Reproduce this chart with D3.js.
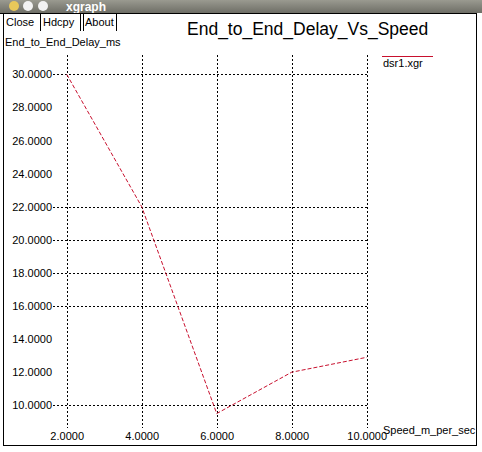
<!DOCTYPE html>
<html>
<head>
<meta charset="utf-8">
<script src="https://cdn.jsdelivr.net/npm/d3@7"></script>
<style>
  body { margin: 0; background: #fff; }
  svg text { font-family: "Liberation Sans", "DejaVu Sans", sans-serif; }
</style>
</head>
<body>
<svg id="chart" width="482" height="452"></svg>
<script>
// data
const speeds = [2, 4, 6, 8, 10];
const delays = [30.0, 22.0, 9.5, 12.0, 12.9];
const yTicks = [10, 12, 14, 16, 18, 20, 22, 24, 26, 28, 30];
const yGridShown = [10, 16, 18, 20, 22, 30];
const buttons = ["Close", "Hdcpy", "About"];

const svg = d3.select("#chart");

// window title bar
const grad = svg.append("defs").append("linearGradient")
    .attr("id", "bar").attr("x1", 0).attr("y1", 0).attr("x2", 0).attr("y2", 1);
grad.append("stop").attr("offset", "0%").attr("stop-color", "#9a9a90");
grad.append("stop").attr("offset", "100%").attr("stop-color", "#6e6e66");
svg.append("rect").attr("x", 0).attr("y", 0).attr("width", 482).attr("height", 13)
    .attr("fill", "url(#bar)");
[[14, "#e8c85a"], [28, "#f2f2f2"], [43, "#f2f2f2"]].forEach(([cx, c]) => {
    svg.append("ellipse").attr("cx", cx).attr("cy", 6).attr("rx", 5).attr("ry", 5)
        .attr("fill", c);
});
svg.append("text").attr("x", 66).attr("y", 11).text("xgraph")
    .style("font-size", "12px").style("font-weight", "bold").attr("fill", "#fff");

// frame
svg.append("line").attr("x1", 0).attr("x2", 477).attr("y1", 13.5).attr("y2", 13.5)
    .attr("stroke", "#000");
svg.append("line").attr("x1", 3.5).attr("x2", 3.5).attr("y1", 13).attr("y2", 446)
    .attr("stroke", "#000");
svg.append("line").attr("x1", 476.5).attr("x2", 476.5).attr("y1", 13).attr("y2", 446)
    .attr("stroke", "#000");
svg.append("line").attr("x1", 3).attr("x2", 477).attr("y1", 445.5).attr("y2", 445.5)
    .attr("stroke", "#000");

// buttons
const btnX = [6, 43, 85];
const btnEdges = [40.5, 80.5, 83.5, 116.5];
buttons.forEach((b, i) => {
    svg.append("text").attr("x", btnX[i]).attr("y", 26).text(b)
        .style("font-size", "11px").attr("fill", "#000");
});
btnEdges.forEach(x => {
    svg.append("line").attr("x1", x).attr("x2", x).attr("y1", 14).attr("y2", 31)
        .attr("stroke", "#000");
});

// scales
const x = d3.scaleLinear().domain([2, 10]).range([66.7, 366.7]);
const y = d3.scaleLinear().domain([10, 30]).range([405.3, 74.3]);

// grid
svg.append("g").selectAll("line").data(speeds).join("line")
    .attr("x1", d => Math.round(x(d)) + 0.5).attr("x2", d => Math.round(x(d)) + 0.5)
    .attr("y1", 55).attr("y2", 428)
    .attr("stroke", "#000").attr("stroke-dasharray", "2,2");
svg.append("g").selectAll("line").data(yGridShown).join("line")
    .attr("x1", 53).attr("x2", 369)
    .attr("y1", d => Math.round(y(d)) + 0.5).attr("y2", d => Math.round(y(d)) + 0.5)
    .attr("stroke", "#000").attr("stroke-dasharray", "2,2");

// axis labels via d3 axes (no domain / tick lines, only text)
const yAxis = svg.append("g").attr("transform", "translate(52,0)")
    .call(d3.axisLeft(y).tickValues(yTicks).tickSize(0).tickPadding(0)
        .tickFormat(d3.format(".4f")));
yAxis.select(".domain").remove();
yAxis.selectAll("text").style("font-size", "11px").style("font-family", "Liberation Sans, sans-serif")
    .attr("fill", "#000");

const xAxis = svg.append("g").attr("transform", "translate(0,432)")
    .call(d3.axisBottom(x).tickValues(speeds).tickSize(0).tickPadding(0)
        .tickFormat(d3.format(".4f")));
xAxis.select(".domain").remove();
xAxis.selectAll("text").style("font-size", "11px").style("font-family", "Liberation Sans, sans-serif")
    .attr("fill", "#000");

// titles
svg.append("text").attr("x", 187).attr("y", 35).text("End_to_End_Delay_Vs_Speed")
    .style("font-size", "17.5px").attr("fill", "#000");
svg.append("text").attr("x", 5).attr("y", 46).text("End_to_End_Delay_ms")
    .style("font-size", "11px").attr("fill", "#000");
svg.append("text").attr("x", 383).attr("y", 434).text("Speed_m_per_sec")
    .style("font-size", "11px").attr("fill", "#000");

// legend
svg.append("line").attr("x1", 382).attr("x2", 433).attr("y1", 56.5).attr("y2", 56.5)
    .attr("stroke", "#c8102e");
svg.append("text").attr("x", 383).attr("y", 67).text("dsr1.xgr")
    .style("font-size", "11px").attr("fill", "#000");

// series
const line = d3.line().x(d => x(d[0])).y(d => y(d[1]));
svg.append("path").datum(speeds.map((s, i) => [s, delays[i]]))
    .attr("d", line).attr("fill", "none")
    .attr("stroke", "#c8102e").attr("stroke-width", 1).attr("stroke-dasharray", "4,2");
</script>
</body>
</html>
